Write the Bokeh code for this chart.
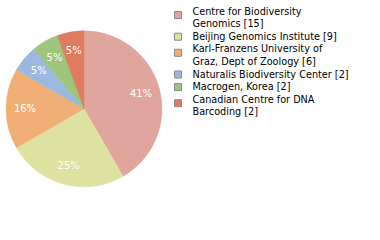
import math
from bokeh.plotting import figure
from bokeh.models import Range1d, ColumnDataSource
from bokeh.core.properties import value
from bokeh.embed import file_html
from bokeh.resources import INLINE

# ---- data ----
institutions = [
    "Centre for Biodiversity Genomics",
    "Beijing Genomics Institute",
    "Karl-Franzens University of Graz, Dept of Zoology",
    "Naturalis Biodiversity Center",
    "Macrogen, Korea",
    "Canadian Centre for DNA Barcoding",
]
counts = [15, 9, 6, 2, 2, 2]
legend_lines = [
    ["Centre for Biodiversity", "Genomics [15]"],
    ["Beijing Genomics Institute [9]"],
    ["Karl-Franzens University of", "Graz, Dept of Zoology [6]"],
    ["Naturalis Biodiversity Center [2]"],
    ["Macrogen, Korea [2]"],
    ["Canadian Centre for DNA", "Barcoding [2]"],
]
colors = ["#e0a59d", "#dde2a0", "#efae73", "#9bb9df", "#9dc57b", "#df7b5f"]

W, H = 380, 240
p = figure(width=W, height=H, x_range=Range1d(0, W), y_range=Range1d(0, H),
           min_border=0, output_backend="svg", toolbar_location=None)
p.axis.visible = False
p.grid.visible = False
p.outline_line_color = None
p.background_fill_color = "white"
p.border_fill_color = "white"

def Y(py):
    return H - py

# ---- pie ----
cx, cy, R = 83.5, Y(108.3), 78
total = sum(counts)
starts, ends, mids = [], [], []
acc = 0
for c in counts:
    f0 = acc / total
    acc += c
    f1 = acc / total
    starts.append(math.pi / 2 - f0 * 2 * math.pi)
    ends.append(math.pi / 2 - f1 * 2 * math.pi)
    mids.append(math.pi / 2 - (f0 + f1) / 2 * 2 * math.pi)

src = ColumnDataSource(dict(start=starts, end=ends, color=colors))
p.wedge(x=cx, y=cy, radius=R, radius_units="screen", start_angle="start",
        end_angle="end", direction="clock", fill_color="color",
        line_color="color", line_width=0.5, source=src)

lr = 59
lab = ColumnDataSource(dict(
    x=[cx + lr * math.cos(a) for a in mids],
    y=[cy + lr * math.sin(a) for a in mids],
    t=[f"{int(100 * c / total)}%" for c in counts],
))
p.text(x="x", y="y", text="t", source=lab, text_color="white",
       text_font=value("DejaVu Sans"), text_font_size="10px",
       text_align="center", text_baseline="middle")

# ---- legend ----
line0, step = 10.5, 12.6
tx, ty, tt = [], [], []
mx, my, mc = [], [], []
i = 0
for k, lines in enumerate(legend_lines):
    first = i
    for ln in lines:
        tx.append(192)
        ty.append(Y(line0 + i * step))
        tt.append(ln)
        i += 1
    off = 4 if len(lines) > 1 else 0.5
    mx.append(177.5)
    my.append(Y(line0 + first * step + off))
    mc.append(colors[k])

p.rect(x=mx, y=my, width=7, height=7, width_units="screen", height_units="screen",
       fill_color=mc, line_color="#8a8a8a", line_width=1)
p.text(x=tx, y=ty, text=tt, text_color="black",
       text_font=value("DejaVu Sans"), text_font_size="9.7px",
       text_align="left", text_baseline="middle")

open("out.html", "w").write(file_html(p, INLINE))
